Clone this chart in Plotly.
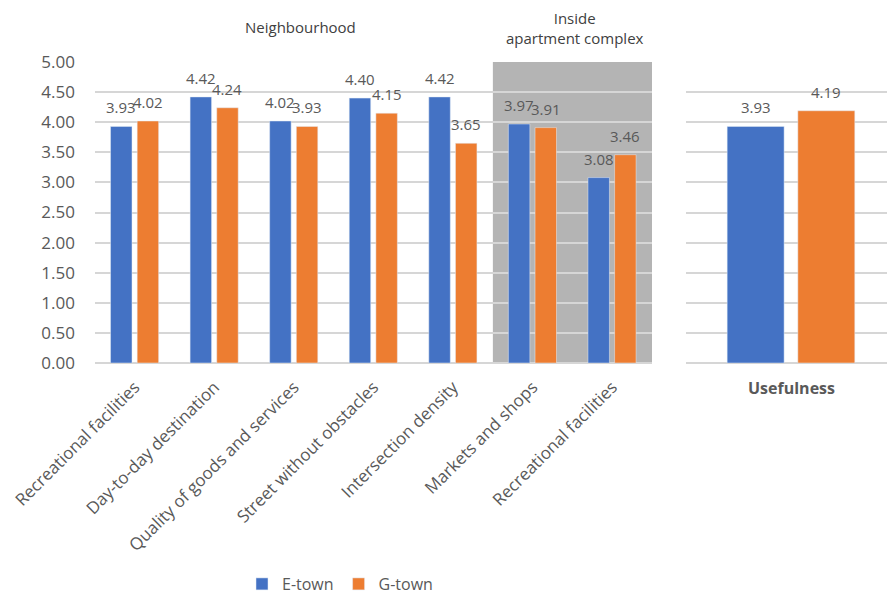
import plotly.graph_objects as go

# Walkability attributes rated by residents of the two towns
categories = [
    "Recreational facilities",
    "Day-to-day destination",
    "Quality of goods and services",
    "Street without obstacles",
    "Intersection density",
    "Markets and shops",
    "Recreational facilities",
]
e_town = [3.93, 4.42, 4.02, 4.40, 4.42, 3.97, 3.08]
g_town = [4.02, 4.24, 3.93, 4.15, 3.65, 3.91, 3.46]

summary_label = ["Usefulness"]
e_useful = [3.93]
g_useful = [4.19]

series_names = ["E-town", "G-town"]
colors = ["#4472C4", "#ED7D31"]

W, H = 887, 599
BAR_W = 0.27
OFFSETS = [-0.305, 0.03]
TXT = "#595959"
GRID = "#d6d6d6"

idx = list(range(len(categories)))

fig = go.Figure()

for name, vals, col, off in zip(series_names, [e_town, g_town], colors, OFFSETS):
    fig.add_trace(go.Bar(
        x=idx, y=vals, name=name, marker_color=col, width=BAR_W, offset=off,
        xaxis="x", yaxis="y", hoverinfo="skip",
    ))
for name, vals, col, off in zip(series_names, [e_useful, g_useful], colors, OFFSETS):
    fig.add_trace(go.Bar(
        x=[0], y=vals, name=name, marker_color=col, width=BAR_W, offset=off,
        xaxis="x2", yaxis="y2", showlegend=False, hoverinfo="skip",
    ))

# value labels above each bar
annotations = []
for vals, off in zip([e_town, g_town], OFFSETS):
    for i, v in enumerate(vals):
        annotations.append(dict(
            x=i + off + BAR_W / 2, y=v, xref="x", yref="y", text=f"{v:.2f}",
            showarrow=False, yshift=19, yanchor="middle",
            font=dict(family="Open Sans", size=15, color=TXT),
        ))
for vals, off in zip([e_useful, g_useful], OFFSETS):
    for i, v in enumerate(vals):
        annotations.append(dict(
            x=i + off + BAR_W / 2, y=v, xref="x2", yref="y2", text=f"{v:.2f}",
            showarrow=False, yshift=19, yanchor="middle",
            font=dict(family="Open Sans", size=15, color=TXT),
        ))

# group headings
annotations.append(dict(
    x=300 / W, y=1 - 27 / H, xref="paper", yref="paper", text="Neighbourhood",
    showarrow=False, xanchor="center", yanchor="middle",
    font=dict(family="Open Sans", size=15, color="#404040"),
))
annotations.append(dict(
    x=575 / W, y=1 - 28 / H, xref="paper", yref="paper",
    text="Inside<br>apartment complex", showarrow=False,
    xanchor="center", yanchor="middle",
    font=dict(family="Open Sans", size=15, color="#404040"),
))

y_bottom = 1 - 363 / H
y_top = 1 - 62 / H

fig.update_layout(
    width=W, height=H,
    margin=dict(l=0, r=0, t=0, b=0, autoexpand=False),
    paper_bgcolor="white", plot_bgcolor="white",
    font=dict(family="Open Sans", color=TXT),
    barmode="overlay",
    showlegend=True,
    legend=dict(
        orientation="h", x=340 / W, xanchor="center", y=15 / H, yanchor="middle",
        font=dict(size=16, color=TXT), traceorder="normal",
    ),
    xaxis=dict(
        domain=[95 / W, 652 / W], range=[-0.5, len(categories) - 0.5],
        tickmode="array", tickvals=idx, ticktext=categories, tickangle=-45,
        tickfont=dict(size=17, color=TXT), showgrid=False, zeroline=False,
        showline=False, ticks="", automargin=False, ticklabelstandoff=10,
    ),
    yaxis=dict(
        domain=[y_bottom, y_top], range=[0, 5], dtick=0.5, tickformat=".2f",
        tickfont=dict(size=17, color=TXT), showgrid=True, gridcolor=GRID,
        gridwidth=1.5, zeroline=True, zerolinecolor=GRID, zerolinewidth=1.5,
        ticklabelstandoff=19, automargin=False,
    ),
    xaxis2=dict(
        domain=[686 / W, 1.0], range=[-0.5, -0.5 + 201 / 211],
        tickmode="array", tickvals=[0],
        ticktext=[f"<b>{s}</b>" for s in summary_label],
        tickfont=dict(size=16, color=TXT), showgrid=False, zeroline=False,
        showline=False, ticks="", anchor="y2", automargin=False,
        ticklabelstandoff=14,
    ),
    yaxis2=dict(
        domain=[y_bottom, y_top], range=[0, 5], dtick=0.5, anchor="x2",
        showticklabels=False, showgrid=True, gridcolor=GRID, gridwidth=1.5,
        zeroline=True, zerolinecolor=GRID, zerolinewidth=1.5, automargin=False,
    ),
    shapes=[dict(
        type="rect", xref="x", yref="y", x0=4.5, x1=6.5, y0=0, y1=5,
        fillcolor="#b4b4b4", line=dict(width=0), layer="below",
    )],
    annotations=annotations,
)

fig.write_html("out.html")
